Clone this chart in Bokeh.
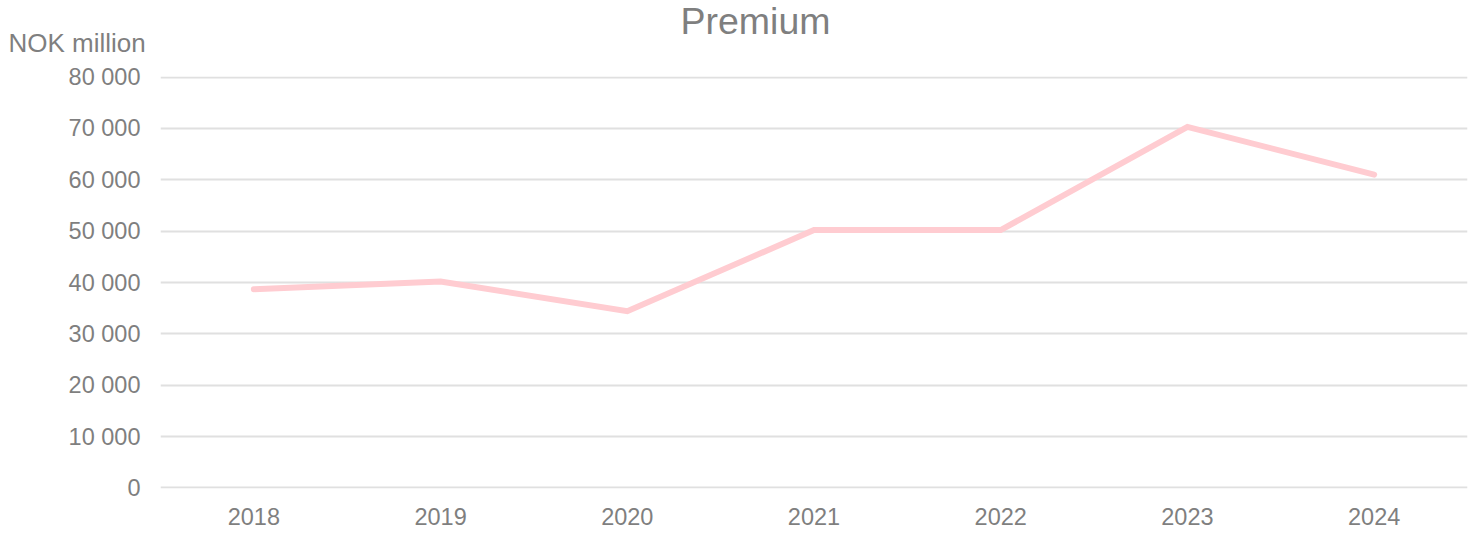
from bokeh.plotting import figure
from bokeh.models import Label, FixedTicker
from bokeh.embed import file_html
from bokeh.resources import INLINE

# Premium per year, NOK million
years = ["2018", "2019", "2020", "2021", "2022", "2023", "2024"]
premium = [38700, 40200, 34400, 50200, 50200, 70300, 61000]
y_ticks = [0, 10000, 20000, 30000, 40000, 50000, 60000, 70000, 80000]

FONT = "Liberation Sans"
GREY = "#7f7f7f"

W, H = 1478, 534
LEFT, RIGHT, TOP, BOTTOM = 160, 11, 76, 46
Y0, Y1 = -100, 80100   # a little headroom so the 0 and 80 000 grid lines are drawn

p = figure(
    x_range=years,
    y_range=(Y0, Y1),
    width=W,
    height=H,
    output_backend="svg",
    toolbar_location=None,
    min_border_left=LEFT,
    min_border_right=RIGHT,
    min_border_top=TOP,
    min_border_bottom=BOTTOM,
)
p.outline_line_color = None
p.background_fill_color = "white"
p.border_fill_color = "white"
p.title.text = ""

p.line(x=years, y=premium, line_color="#FFCCD1", line_width=6,
       line_cap="round", line_join="miter")

# axes and grid
p.xgrid.grid_line_color = None
p.ygrid.grid_line_color = "#e0e0e0"
p.ygrid.grid_line_width = 2

p.yaxis.ticker = FixedTicker(ticks=y_ticks)
p.yaxis.major_label_overrides = {t: f"{t:,}".replace(",", " ") for t in y_ticks}
for ax in (p.xaxis, p.yaxis):
    ax.axis_line_color = None
    ax.major_tick_line_color = None
    ax.minor_tick_line_color = None
    ax.major_tick_out = 0
    ax.major_tick_in = 0
    ax.major_label_text_font = FONT
    ax.major_label_text_font_size = "23.5px"
    ax.major_label_text_color = GREY
p.yaxis.major_label_standoff = 20
p.xaxis.major_label_standoff = 19


# helpers: canvas pixel -> plot coordinates (labels sit in the top panel)
def px_x(px):
    return (px - LEFT) / ((W - LEFT - RIGHT) / len(years))


def px_y(py):
    return Y0 + (H - BOTTOM - py) / (H - BOTTOM - TOP) * (Y1 - Y0)


p.add_layout(Label(x=px_x(755), y=px_y(20), text="Premium",
                   text_font=FONT, text_font_size="37.5px", text_color=GREY,
                   text_align="center", text_baseline="alphabetic"), "above")
p.add_layout(Label(x=px_x(8), y=px_y(42), text="NOK million",
                   text_font=FONT, text_font_size="26px", text_color=GREY,
                   text_align="left", text_baseline="alphabetic"), "above")

open("out.html", "w").write(file_html(p, INLINE))
